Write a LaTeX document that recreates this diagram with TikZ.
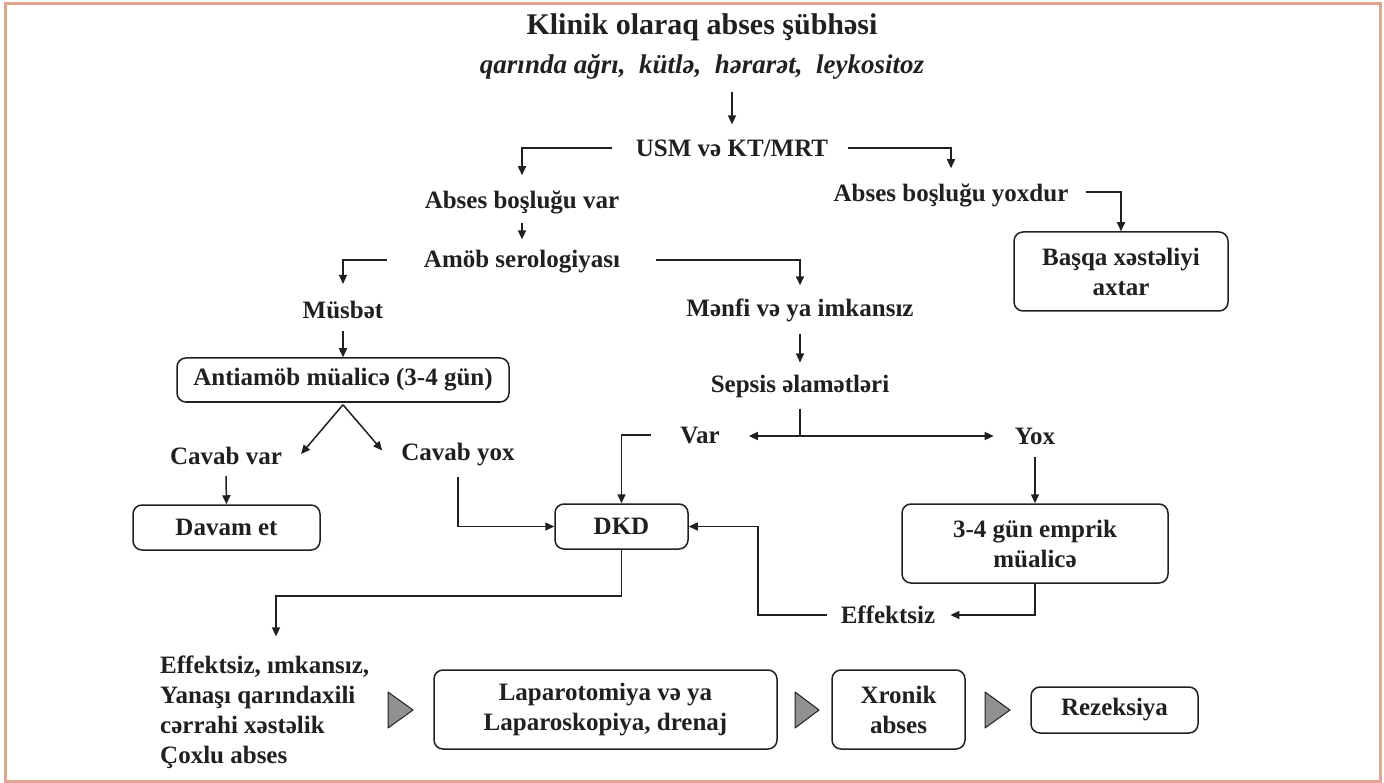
\documentclass[tikz,border=0pt]{standalone}
\usepackage{fontspec}
\setmainfont{Liberation Serif}
\usetikzlibrary{arrows.meta,calc}
\definecolor{framec}{RGB}{225,165,145}
\definecolor{ink}{RGB}{35,31,32}
\definecolor{trifill}{RGB}{145,145,148}
\tikzset{
  lbl/.style={font=\bfseries\fontsize{25}{30}\selectfont, text=ink, inner sep=0pt},
  box/.style={lbl, draw=ink, line width=1.5pt, rounded corners=9pt, align=center},
  conn/.style={draw=ink, line width=1.5pt},
  arr/.style={conn, -{Triangle[length=9pt,width=8pt]}},
  tri/.style={draw=ink, line width=1pt, fill=trifill, line join=round},
}
\begin{document}
\begin{tikzpicture}[x=1pt,y=-1pt]
\useasboundingbox (0,0) rectangle (1384,783);
\draw[framec, line width=3pt] (5,4) rectangle (1380,781);

% texts
\node[lbl, font=\bfseries\fontsize{30}{34}\selectfont] (t1) at (702,27) {Klinik olaraq abses şübhəsi};
\node[lbl, font=\bfseries\itshape\fontsize{27}{32}\selectfont] (t2) at (702,67) {qarında ağrı,\ \ kütlə,\ \ hərarət,\ \ leykositoz};
\node[lbl] (usm) at (732,148) {USM və KT/MRT};
\node[lbl] (avar) at (522,202) {Abses boşluğu var};
\node[lbl] (ayox) at (951,195) {Abses boşluğu yoxdur};
\node[box, minimum width=214pt, minimum height=79pt] (basqa) at (1121,271.5) {Başqa xəstəliyi\\axtar};
\node[lbl] (amob) at (522,262) {Amöb serologiyası};
\node[lbl] (musbet) at (343,310) {Müsbət};
\node[lbl] (menfi) at (800,310) {Mənfi və ya imkansız};
\node[box, minimum width=332pt, minimum height=44pt] (anti) at (343,380) {Antiamöb müalicə (3-4 gün)};
\node[lbl] (cvar) at (226,456) {Cavab var};
\node[lbl] (cyox) at (458,455) {Cavab yox};
\node[box, minimum width=187pt, minimum height=45pt] (davam) at (226.5,527.5) {Davam et};
\node[box, minimum width=133pt, minimum height=45pt] (dkd) at (621.5,526.5) {DKD};
\node[lbl] (sepsis) at (800,386) {Sepsis əlamətləri};
\node[lbl] (var) at (700,436) {Var};
\node[lbl] (yox) at (1035,436) {Yox};
\node[box, minimum width=266pt, minimum height=79pt] (emp) at (1035,543.5) {3-4 gün emprik\\müalicə};
\node[lbl] (eff) at (888,615) {Effektsiz};
\node[lbl, align=left, anchor=west] (left) at (160,712) {Effektsiz, ımkansız,\\Yanaşı qarındaxili\\cərrahi xəstəlik\\Çoxlu abses};
\node[box, minimum width=343pt, minimum height=79pt] (lap) at (605.5,709.5) {Laparotomiya və ya\\Laparoskopiya, drenaj};
\node[box, minimum width=133pt, minimum height=79pt] (xron) at (898.5,709.5) {Xronik\\abses};
\node[box, minimum width=167pt, minimum height=46pt] (rez) at (1114.5,710) {Rezeksiya};

% triangles
\draw[tri] (388,692) -- (388,728) -- (413,710) -- cycle;
\draw[tri] (795,692) -- (795,728) -- (819,710) -- cycle;
\draw[tri] (985,692) -- (985,728) -- (1010,710) -- cycle;

% connectors
\draw[arr] ($(t2.south -| usm.north)+(0,12)$) -- ($(usm.north)+(0,-15)$);
\draw[arr] ($(usm.west)+(-24,0)$) -| ($(avar.north)+(0,-15)$);
\draw[arr] ($(usm.east)+(20,0)$) -| ($(ayox.north)+(0,-15)$);
\draw[arr] ($(ayox.east)+(17,-3)$) -| (basqa.north);
\draw[arr] ($(avar.south)+(0,9)$) -- ($(amob.north)+(0,-11)$);
\draw[arr] ($(amob.west)+(-37,-2)$) -| ($(musbet.north)+(0,-17)$);
\draw[arr] ($(amob.east)+(36,-2)$) -| ($(menfi.north)+(0,-13)$);
\draw[arr] ($(musbet.south)+(0,12)$) -- (anti.north);
\draw[arr] ($(anti.south)+(0,2)$) -- ($(cvar.north east)+(19,7)$);
\draw[arr] ($(anti.south)+(0,2)$) -- ($(cyox.north west)+(-19,7)$);
\draw[arr] ($(cvar.south)+(0,11)$) -- (davam.north);
\draw[arr] ($(cyox.south)+(0,10)$) |- (dkd.west);
\draw[arr] ($(menfi.south)+(0,12)$) -- ($(sepsis.north)+(0,-12)$);
\draw[conn] ($(sepsis.south)+(0,11)$) -- (sepsis.south |- var.east);
\draw[arr] (sepsis.south |- var.east) -- ($(var.east)+(29,0)$);
\draw[arr] (sepsis.south |- var.east) -- ($(yox.west)+(-21,0)$);
\draw[arr] ($(var.west)+(-29,-1)$) -| (dkd.north);
\draw[arr] ($(yox.south)+(0,12)$) -- (emp.north);
\draw[arr] (emp.south) |- ($(eff.east)+(15,0)$);
\draw[arr] ($(eff.west)+(-14,0)$) -| ($(dkd.east)+(69,0)$) -- (dkd.east);
\draw[arr] (dkd.south) -- ++(0,46) -| ($(left.north west)+(116,-19)$);
\end{tikzpicture}
\end{document}
